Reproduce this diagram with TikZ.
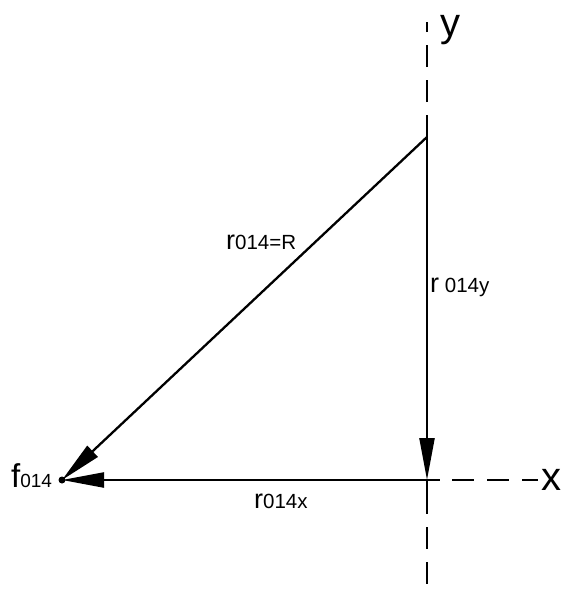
\documentclass[tikz,border=0pt]{standalone}
\usepackage{fontspec}
\setmainfont{Liberation Sans}
\usetikzlibrary{arrows.meta}
\begin{document}
\begin{tikzpicture}[x=1pt,y=-1pt,
  vec/.style={line width=2.3pt,-{Triangle[length=42pt,width=15pt]}},
  axis/.style={line width=2pt,dash pattern=on 22pt off 13pt},
  lbl/.style={inner sep=0pt,anchor=base west}]
\useasboundingbox (0,0) rectangle (563,597);
\coordinate (top) at (427,137);
\coordinate (o) at (427,480);
\coordinate (f) at (62,480);
\coordinate (ytop) at (427,22);
\coordinate (ybot) at (427,596);
\coordinate (xend) at (538,480);
\coordinate (obelow) at (427,492);
\coordinate (oright) at (440,480);
% axes
\draw[axis] (top) -- (ytop);
\draw[line width=2pt] (o) -- (obelow);
\draw[axis] (obelow) -- (ybot);
\draw[line width=2pt] (o) -- (oright);
\draw[axis,dash phase=-12pt] (oright) -- (xend);
% vectors
\draw[vec] (top) -- (o);
\draw[vec] (o) -- (f);
\draw[vec] (top) -- (f);
\fill (f) circle (3.5pt);
% labels
\node[lbl] (ylab) at (440,36) {\fontsize{40}{42}\selectfont y};
\node[lbl] (xlab) at (541,490) {\fontsize{40}{42}\selectfont x};
\node[lbl] (flab) at (11,487) {\fontsize{33}{35}\selectfont f\fontsize{19}{21}\selectfont 014};
\node[lbl] (rlab) at (226,249) {\fontsize{27}{29}\selectfont r\fontsize{20.5}{22}\selectfont 014=R};
\node[lbl] (rylab) at (430,292) {\fontsize{27}{29}\selectfont r\fontsize{20.5}{22}\selectfont\ 014y};
\node[lbl] (rxlab) at (254,508) {\fontsize{27}{29}\selectfont r\fontsize{20.5}{22}\selectfont 014x};
\end{tikzpicture}
\end{document}
